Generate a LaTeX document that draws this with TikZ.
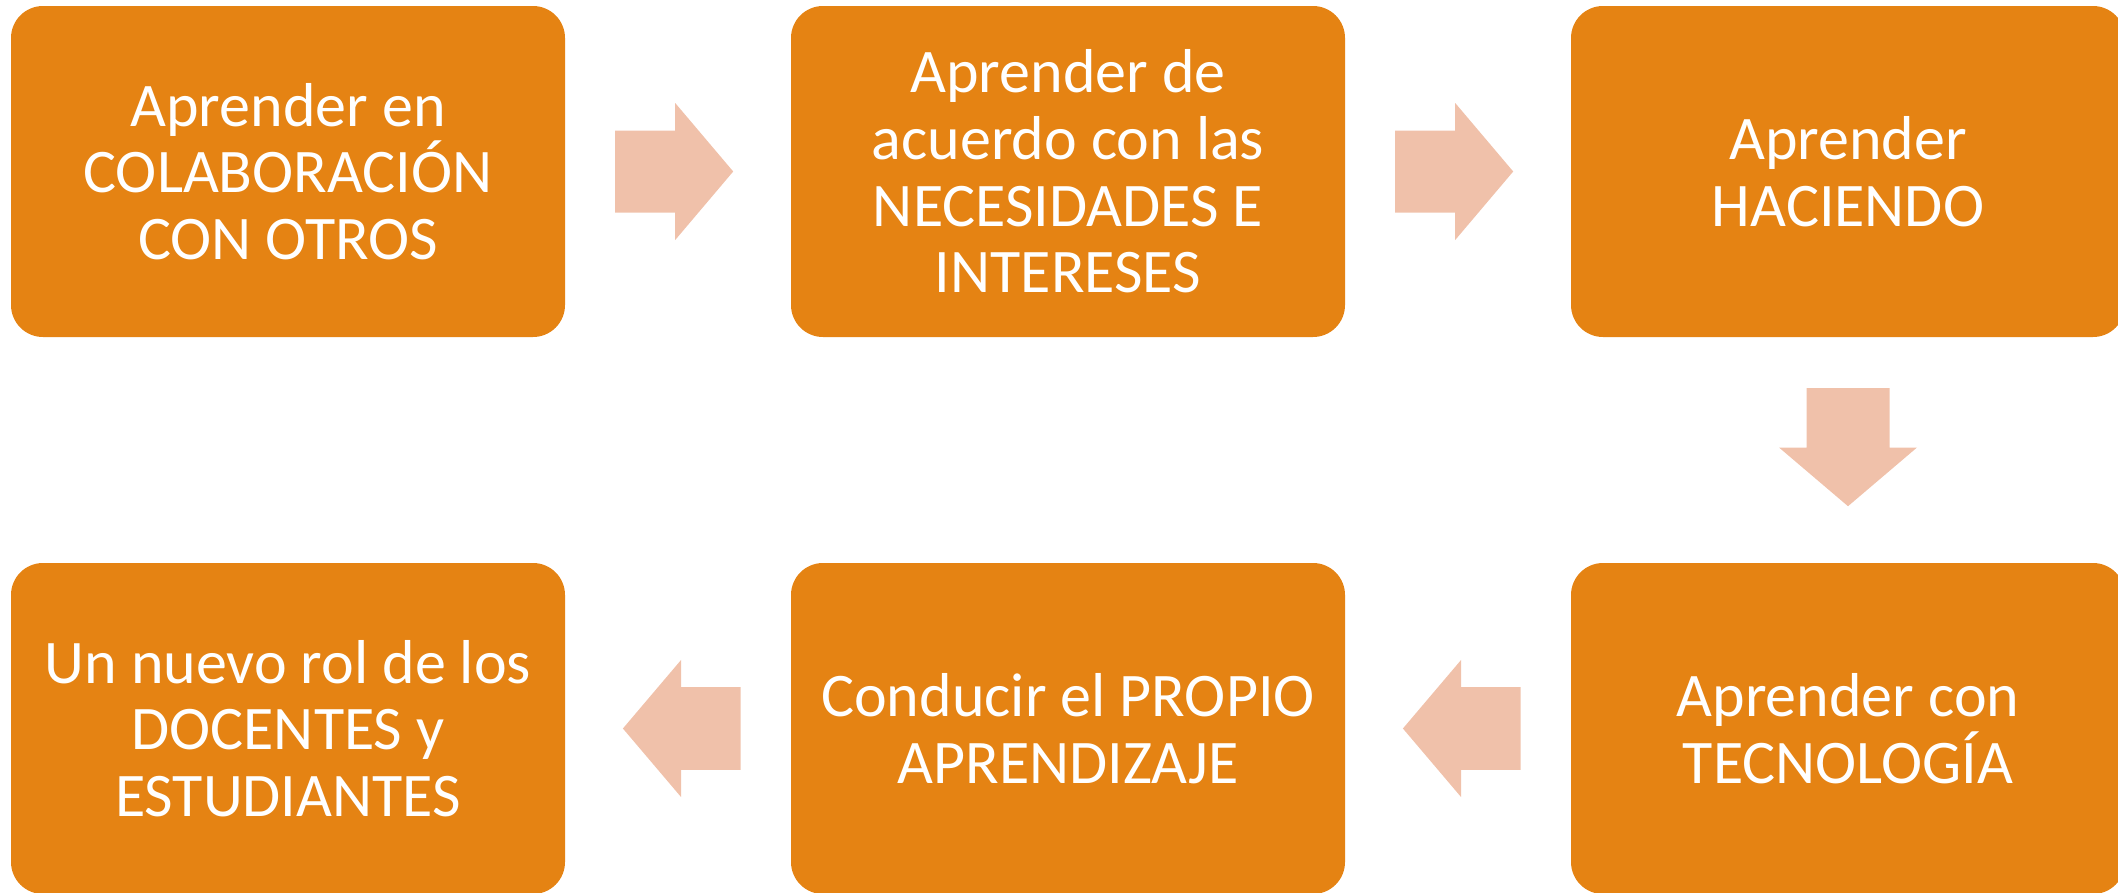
\documentclass[tikz,border=0pt]{standalone}
\usepackage{fontspec}
\setmainfont{Carlito}
\usetikzlibrary{calc}
\definecolor{boxorange}{HTML}{E58313}
\definecolor{arrowpink}{HTML}{F0C1AA}
\tikzset{
  stepbox/.style={fill=boxorange, rounded corners=32pt, minimum width=554pt, minimum height=331pt,
    inner sep=0pt, align=center, text=white, font=\fontsize{62}{66.7}\selectfont},
  blockarrow/.style={fill=arrowpink}
}
\begin{document}
\begin{tikzpicture}[x=1pt,y=-1pt]
\useasboundingbox (0,0) rectangle (2118,892);
\begin{scope}
\clip (0,0) rectangle (2118,892);
\node[stepbox] (b1) at (288,171.5) {Aprender en\\COLABORACIÓN\\CON OTROS};
\node[stepbox] (b2) at (1068,171.5) {Aprender de\\acuerdo con las\\NECESIDADES E\\INTERESES};
\node[stepbox] (b3) at (1848,171.5) {Aprender\\HACIENDO};
\node[stepbox] (b6) at (1848,728.5) {Aprender con\\TECNOLOGÍA};
\node[stepbox] (b5) at (1068,728.5) {Conducir el PROPIO\\APRENDIZAJE};
\node[stepbox] (b4) at (288,728.5) {Un nuevo rol de los\\DOCENTES y\\ESTUDIANTES};
\end{scope}
% right arrows, row 1
\foreach \s in {b1,b2}{
  \coordinate (t) at ($(\s.east)+(50,0)$);
  \fill[blockarrow] ($(t)+(0,-41)$) -- ++(60,0) -- ++(0,-27.5) -- ++(58,68.5)
     -- ++(-58,68.5) -- ++(0,-27.5) -- ++(-60,0) -- cycle;
}
% down arrow
\coordinate (d) at ($(b3.south)+(0,51)$);
\fill[blockarrow] ($(d)+(-41.5,0)$) -- ++(83,0) -- ++(0,59.3) -- ++(27.5,0)
   -- ++(-69,58.7) -- ++(-69,-58.7) -- ++(27.5,0) -- cycle;
% left arrows, row 2
\foreach \s in {b4,b5}{
  \coordinate (p) at ($(\s.east)+(57.7,0)$);
  \fill[blockarrow] (p) -- ++(58.3,-68.7) -- ++(0,27.4) -- ++(59.3,0) -- ++(0,82.6)
     -- ++(-59.3,0) -- ++(0,27.4) -- cycle;
}
\end{tikzpicture}
\end{document}
